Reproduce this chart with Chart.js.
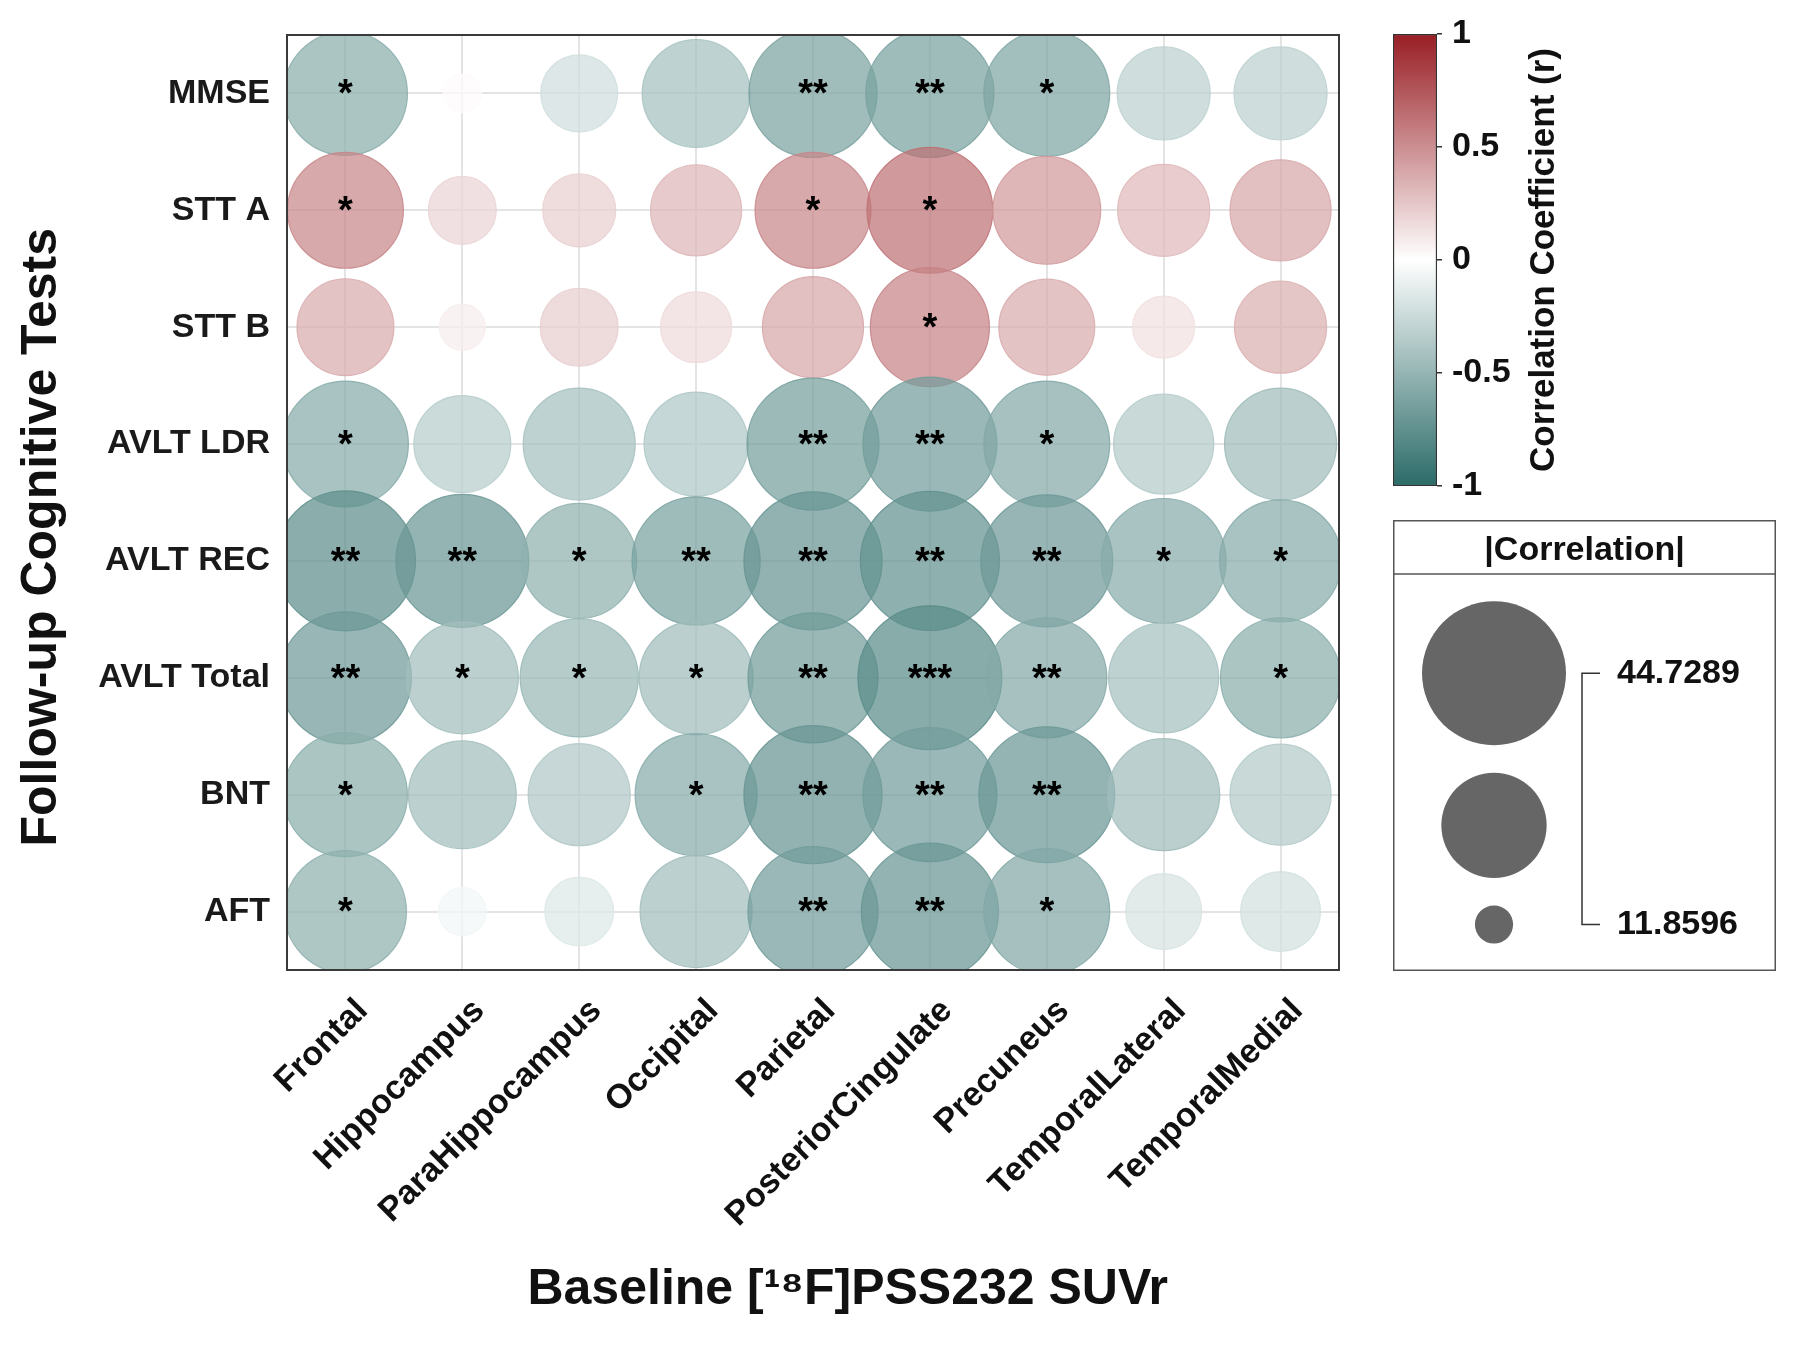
<!DOCTYPE html>
<html>
<head>
<meta charset="utf-8">
<script src="https://cdn.jsdelivr.net/npm/chart.js@4.4.1/dist/chart.umd.min.js"></script>
<style>
  html, body { margin: 0; padding: 0; background: #ffffff; }
  #wrap { position: relative; width: 1820px; height: 1345px; overflow: hidden; }
  #mainWrap { position: absolute; left: 0; top: 0; width: 1820px; height: 1345px; }
  #cbWrap { position: absolute; left: 1380px; top: 0; width: 220px; height: 520px; }
  #szWrap { position: absolute; left: 1393px; top: 520px; width: 383px; height: 451px; }
</style>
</head>
<body>
<div id="wrap">
  <div id="mainWrap"><canvas id="mainChart"></canvas></div>
  <div id="cbWrap"><canvas id="colorbarChart"></canvas></div>
  <div id="szWrap"><canvas id="sizeChart"></canvas></div>
</div>
<script>
// ---------------- DATA ----------------
const tests = ['MMSE', 'STT A', 'STT B', 'AVLT LDR', 'AVLT REC', 'AVLT Total', 'BNT', 'AFT'];
const regions = ['Frontal', 'Hippocampus', 'ParaHippocampus', 'Occipital', 'Parietal',
                 'PosteriorCingulate', 'Precuneus', 'TemporalLateral', 'TemporalMedial'];

// correlation coefficient r (colour), rows = tests, cols = regions
const corrR = [
  [-0.55,  0.02, -0.22, -0.42, -0.62, -0.63, -0.60, -0.31, -0.31],
  [ 0.53,  0.19,  0.21,  0.32,  0.53,  0.63,  0.45,  0.31,  0.39],
  [ 0.37,  0.08,  0.22,  0.16,  0.39,  0.55,  0.37,  0.14,  0.35],
  [-0.56, -0.34, -0.42, -0.38, -0.65, -0.66, -0.58, -0.36, -0.45],
  [-0.76, -0.70, -0.53, -0.63, -0.72, -0.74, -0.69, -0.56, -0.56],
  [-0.68, -0.44, -0.48, -0.45, -0.67, -0.78, -0.58, -0.42, -0.55],
  [-0.55, -0.44, -0.37, -0.56, -0.72, -0.66, -0.70, -0.45, -0.36],
  [-0.53, -0.06, -0.16, -0.44, -0.66, -0.71, -0.59, -0.19, -0.21]
];

// bubble size in |Correlation| legend units
const bubbleSize = [
  [38.5, 11.9, 23.9, 33.5, 39.8, 39.8, 39.1, 28.9, 28.9],
  [36.0, 21.1, 22.7, 28.3, 36.0, 39.1, 33.5, 28.6, 31.4],
  [30.1, 14.3, 24.2, 22.1, 31.4, 37.0, 29.8, 19.3, 28.6],
  [39.1, 30.1, 34.8, 32.3, 41.0, 41.6, 39.1, 31.1, 34.8],
  [43.5, 41.3, 35.7, 39.8, 42.9, 43.2, 41.0, 38.8, 37.9],
  [41.0, 34.8, 36.7, 35.4, 40.4, 44.7, 37.3, 34.2, 37.3],
  [38.5, 33.5, 31.7, 37.9, 42.9, 41.6, 42.2, 34.8, 31.4],
  [37.9, 14.9, 21.4, 34.8, 40.4, 42.6, 39.1, 23.6, 24.8]
];

// significance markers
const stars = [
  ['*',  '',   '',  '',   '**', '**',  '*',  '',  ''],
  ['*',  '',   '',  '',   '*',  '*',   '',   '',  ''],
  ['',   '',   '',  '',   '',   '*',   '',   '',  ''],
  ['*',  '',   '',  '',   '**', '**',  '*',  '',  ''],
  ['**', '**', '*', '**', '**', '**',  '**', '*', '*'],
  ['**', '*',  '*', '*',  '**', '***', '**', '',  '*'],
  ['*',  '',   '',  '*',  '**', '**',  '**', '',  ''],
  ['*',  '',   '',  '',   '**', '**',  '*',  '',  '']
];

const colorbarTicks = [1, 0.5, 0, -0.5, -1];
const sizeLegendLabels = [44.7289, 11.8596];

// ---------------- STYLE ----------------
const FONT = "'Liberation Sans', Arial, Helvetica, sans-serif";
Chart.defaults.font.family = FONT;
const PX_PER_UNIT = 72 / 44.7289;
const ALPHA = 0.72;
const NEG = [43, 107, 104];
const POS = [152, 30, 36];
const PAD5 = '     '; // shifts the centred axis titles like in the reference

function cmap(r) {
  const t = Math.min(1, Math.abs(r));
  const e = r < 0 ? NEG : POS;
  return [255 + (e[0] - 255) * t, 255 + (e[1] - 255) * t, 255 + (e[2] - 255) * t];
}
function rgba(c, a) { return 'rgba(' + c.map(Math.round).join(',') + ',' + a + ')'; }

// ---------------- MAIN BUBBLE CHART ----------------
const points = [];
tests.forEach((t, i) => regions.forEach((g, j) => {
  points.push({ x: g, y: t, r: bubbleSize[i][j] * PX_PER_UNIT, corr: corrR[i][j], sig: stars[i][j] });
}));

const starPlugin = {
  id: 'stars',
  afterDatasetsDraw(chart) {
    const ctx = chart.ctx;
    const meta = chart.getDatasetMeta(0);
    const fs = 38;
    ctx.save();
    ctx.fillStyle = '#000';
    ctx.font = 'bold ' + fs + 'px ' + FONT;
    ctx.textAlign = 'center';
    ctx.textBaseline = 'alphabetic';
    meta.data.forEach((el, k) => {
      const s = chart.data.datasets[0].data[k].sig;
      if (!s) return;
      ctx.fillText(s, el.x, el.y - 8 + 0.55 * fs);
    });
    ctx.restore();
  }
};

const framePlugin = {
  id: 'frame',
  afterDraw(chart) {
    const { ctx, chartArea: a } = chart;
    ctx.save();
    ctx.strokeStyle = '#3a3a3a';
    ctx.lineWidth = 2;
    ctx.strokeRect(a.left, a.top, a.right - a.left, a.bottom - a.top);
    ctx.restore();
  }
};

new Chart(document.getElementById('mainChart'), {
  type: 'bubble',
  data: {
    datasets: [{
      data: points,
      clip: 0,
      backgroundColor: ctx => rgba(cmap(ctx.raw.corr), ALPHA),
      borderColor: ctx => rgba(cmap(ctx.raw.corr), 0.88),
      borderWidth: 1.2
    }]
  },
  options: {
    responsive: true,
    maintainAspectRatio: false,
    animation: false,
    events: [],
    layout: { autoPadding: false, padding: { top: 35, right: 481, bottom: 0, left: 0 } },
    plugins: { legend: { display: false }, tooltip: { enabled: false } },
    scales: {
      x: {
        type: 'category',
        labels: regions,
        offset: true,
        position: 'bottom',
        grid: { color: '#e4e4e4', lineWidth: 2, drawTicks: false, offset: false },
        border: { display: false },
        ticks: {
          color: '#111',
          font: { family: FONT, size: 34, weight: 'bold' },
          minRotation: 45, maxRotation: 45, autoSkip: false, padding: 21, labelOffset: 17
        },
        title: {
          display: true,
          text: PAD5 + 'Baseline [\u00B9\u2078F]PSS232 SUVr',
          color: '#111',
          font: { family: FONT, size: 50, weight: 'bold' },
          padding: { top: 0, bottom: 25 }
        },
        afterFit: s => { s.height = 375; s.paddingLeft = 0; s.paddingRight = 0; }
      },
      y: {
        type: 'category',
        labels: tests,
        offset: true,
        position: 'left',
        grid: { color: '#e4e4e4', lineWidth: 2, drawTicks: false, offset: false },
        border: { display: false },
        ticks: { color: '#1a1a1a', font: { family: FONT, size: 34, weight: 'bold' }, padding: 17 },
        title: {
          display: true,
          text: 'Follow-up Cognitive Tests' + PAD5,
          color: '#111',
          font: { family: FONT, size: 50, weight: 'bold' },
          padding: { top: 12, bottom: 0 }
        },
        afterFit: s => { s.width = 287; s.paddingTop = 0; s.paddingBottom = 0; }
      }
    }
  },
  plugins: [starPlugin, framePlugin]
});

// ---------------- COLORBAR ----------------
const cbTitlePlugin = {
  id: 'cbTitle',
  afterDraw(chart) {
    const ctx = chart.ctx;
    const a = chart.chartArea;
    ctx.save();
    ctx.translate(164, (a.top + a.bottom) / 2);
    ctx.rotate(-Math.PI / 2);
    ctx.font = 'bold 35px ' + FONT;
    ctx.fillStyle = '#111';
    ctx.textAlign = 'center';
    ctx.textBaseline = 'middle';
    ctx.fillText('Correlation Coefficient (r)', 0, 0);
    ctx.restore();
  }
};

new Chart(document.getElementById('colorbarChart'), {
  type: 'bar',
  data: {
    labels: ['r'],
    datasets: [{
      data: [[colorbarTicks[colorbarTicks.length - 1], colorbarTicks[0]]],
      backgroundColor: ctx => {
        const ca = ctx.chart.chartArea;
        if (!ca) return '#ffffff';
        const g = ctx.chart.ctx.createLinearGradient(0, ca.bottom, 0, ca.top);
        g.addColorStop(0, rgba(NEG, 1));
        g.addColorStop(0.5, '#ffffff');
        g.addColorStop(1, rgba(POS, 1));
        return g;
      },
      borderColor: '#333',
      borderWidth: 1.5,
      borderSkipped: false,
      barPercentage: 1,
      categoryPercentage: 1
    }]
  },
  options: {
    responsive: true,
    maintainAspectRatio: false,
    animation: false,
    events: [],
    layout: { autoPadding: false, padding: { left: 13, top: 34, bottom: 34, right: 0 } },
    plugins: { legend: { display: false }, tooltip: { enabled: false } },
    scales: {
      x: { display: false },
      y: {
        position: 'right',
        min: -1, max: 1,
        afterBuildTicks: s => { s.ticks = colorbarTicks.map(v => ({ value: v })); },
        ticks: { color: '#111', font: { family: FONT, size: 34, weight: 'bold' }, padding: 10,
                 callback: v => String(v) },
        grid: { drawOnChartArea: false, drawTicks: true, tickLength: 5, color: '#333', lineWidth: 1.5 },
        border: { display: false },
        afterFit: s => { s.width = 220 - 13 - 44; s.paddingTop = 0; s.paddingBottom = 0; }
      }
    }
  },
  plugins: [cbTitlePlugin]
});

// ---------------- SIZE LEGEND ----------------
const SZ_W = 383, SZ_H = 451, SZ_HEAD = 54;
const legSizes = [sizeLegendLabels[0],
                  Math.sqrt((sizeLegendLabels[0] ** 2 + sizeLegendLabels[1] ** 2) / 2),
                  sizeLegendLabels[1]];
const legR = legSizes.map(s => s * PX_PER_UNIT);
const areaH = SZ_H - SZ_HEAD;
const legGap = (areaH - 2 * legR.reduce((a, b) => a + b, 0)) / 4;
let yAcc = legGap;
const legPts = legR.map((r, k) => {
  const c = yAcc + r;
  yAcc += 2 * r + legGap;
  return { x: 101, y: c, r: r, label: k === 1 ? '' : String(legSizes[k]) };
});

const sizeLegendPlugin = {
  id: 'sizeLegend',
  beforeDraw(chart) {
    const ctx = chart.ctx;
    ctx.save();
    ctx.strokeStyle = '#555';
    ctx.lineWidth = 1.5;
    ctx.strokeRect(0.75, 0.75, SZ_W - 1.5, SZ_H - 1.5);
    ctx.beginPath();
    ctx.moveTo(0, SZ_HEAD);
    ctx.lineTo(SZ_W, SZ_HEAD);
    ctx.stroke();
    ctx.restore();
  },
  afterDraw(chart) {
    const ctx = chart.ctx;
    const els = chart.getDatasetMeta(0).data;
    const yTop = els[0].y, yBot = els[2].y;
    const bx = 189, tx = 207;
    ctx.save();
    ctx.strokeStyle = '#333';
    ctx.lineWidth = 1.5;
    ctx.beginPath();
    ctx.moveTo(tx, yTop); ctx.lineTo(bx, yTop); ctx.lineTo(bx, yBot); ctx.lineTo(tx, yBot);
    ctx.stroke();
    ctx.fillStyle = '#111';
    ctx.font = 'bold 34px ' + FONT;
    ctx.textAlign = 'left';
    ctx.textBaseline = 'middle';
    ctx.fillText(legPts[0].label, 224, yTop);
    ctx.fillText(legPts[2].label, 224, yBot);
    ctx.restore();
  }
};

new Chart(document.getElementById('sizeChart'), {
  type: 'bubble',
  data: {
    datasets: [{
      data: legPts,
      clip: false,
      backgroundColor: '#666666',
      borderColor: '#666666',
      borderWidth: 0
    }]
  },
  options: {
    responsive: true,
    maintainAspectRatio: false,
    animation: false,
    events: [],
    layout: { autoPadding: false, padding: 0 },
    plugins: {
      legend: { display: false },
      tooltip: { enabled: false },
      title: {
        display: true,
        text: '|Correlation|',
        color: '#111',
        font: { family: FONT, size: 34, weight: 'bold' },
        padding: { top: 10, bottom: 3 }
      }
    },
    scales: {
      x: { type: 'linear', display: false, min: 0, max: SZ_W },
      y: { type: 'linear', display: false, min: 0, max: areaH, reverse: true }
    }
  },
  plugins: [sizeLegendPlugin]
});
</script>
</body>
</html>
